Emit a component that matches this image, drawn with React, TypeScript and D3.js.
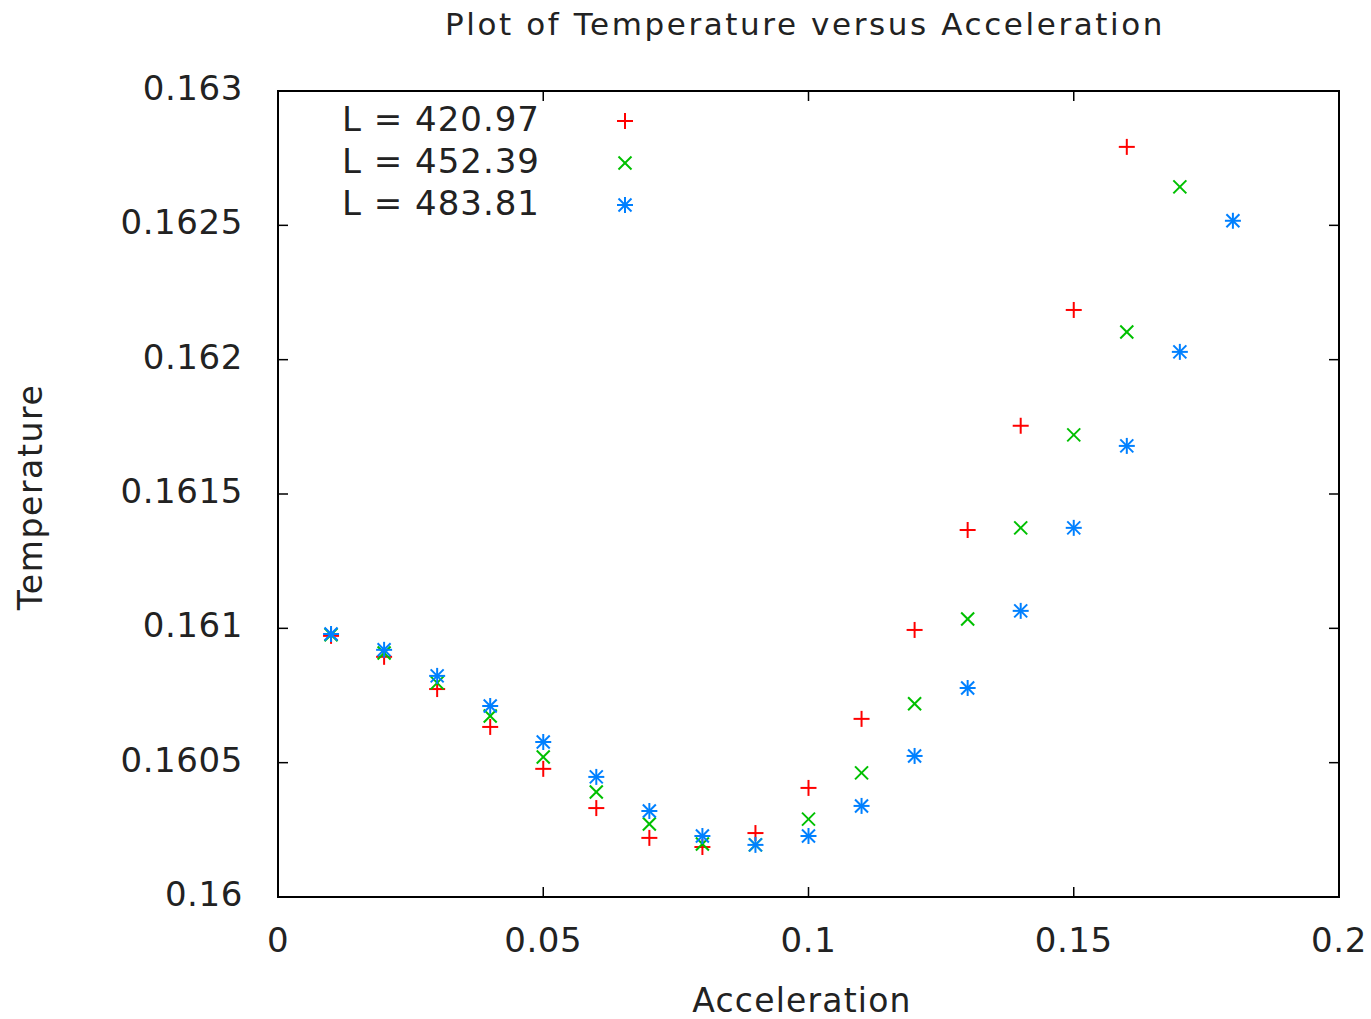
import React from "react";
import * as d3 from "d3";

const accel = [0.01, 0.02, 0.03, 0.04, 0.05, 0.06, 0.07, 0.08, 0.09, 0.1, 0.11, 0.12, 0.13, 0.14, 0.15, 0.16, 0.17, 0.18];
const tempL420 = [0.160972, 0.160894, 0.160774, 0.160633, 0.160477, 0.160331, 0.16022, 0.160186, 0.160238, 0.160406, 0.160663, 0.160994, 0.161366, 0.161754, 0.162185, 0.162792];
const tempL452 = [0.160976, 0.160908, 0.160797, 0.160674, 0.160521, 0.160391, 0.160272, 0.160197, 0.160194, 0.16029, 0.160462, 0.160719, 0.161035, 0.161374, 0.16172, 0.162103, 0.162643];
const tempL483 = [0.160979, 0.16092, 0.160823, 0.160711, 0.160577, 0.160447, 0.16032, 0.160227, 0.160194, 0.160227, 0.160339, 0.160525, 0.160778, 0.161065, 0.161374, 0.161679, 0.162029, 0.162517];
const seriesLabels = ["L = 420.97", "L = 452.39", "L = 483.81"];
const seriesColors = ["#ff0000", "#00c000", "#0080ff"];
const seriesShapes = ["plus", "cross", "star"];
const xTicks = [0, 0.05, 0.1, 0.15, 0.2];
const xTickLabels = ["0", "0.05", "0.1", "0.15", "0.2"];
const yTicks = [0.16, 0.1605, 0.161, 0.1615, 0.162, 0.1625, 0.163];
const yTickLabels = ["0.16", "0.1605", "0.161", "0.1615", "0.162", "0.1625", "0.163"];

const W = 1371, H = 1019;
const left = 278, right = 1339, top = 91, bottom = 897;
const FONT = "DejaVu Sans, sans-serif";

function Marker({ shape, x, y, color }: { shape: string; x: number; y: number; color: string }) {
  const s = 8;
  const d = 6.5;
  const sw = 2;
  if (shape === "plus") {
    return (
      <g stroke={color} strokeWidth={sw}>
        <line x1={x - s} y1={y} x2={x + s} y2={y} />
        <line x1={x} y1={y - s} x2={x} y2={y + s} />
      </g>
    );
  }
  if (shape === "cross") {
    return (
      <g stroke={color} strokeWidth={sw}>
        <line x1={x - d} y1={y - d} x2={x + d} y2={y + d} />
        <line x1={x - d} y1={y + d} x2={x + d} y2={y - d} />
      </g>
    );
  }
  return (
    <g stroke={color} strokeWidth={sw}>
      <line x1={x - s} y1={y} x2={x + s} y2={y} />
      <line x1={x} y1={y - s} x2={x} y2={y + s} />
      <line x1={x - d} y1={y - d} x2={x + d} y2={y + d} />
      <line x1={x - d} y1={y + d} x2={x + d} y2={y - d} />
    </g>
  );
}

export default function App() {
  const xScale = d3.scaleLinear().domain([0, 0.2]).range([left, right]);
  const yScale = d3.scaleLinear().domain([0.16, 0.163]).range([bottom, top]);
  const series = [tempL420, tempL452, tempL483];
  const tickLen = 10;

  return (
    <svg width={W} height={H} style={{ position: "absolute", left: 0, top: 0, background: "#fff" }}>
      <rect x={0} y={0} width={W} height={H} fill="#fff" />
      <text x={805} y={24} textAnchor="middle" dominantBaseline="central" fontFamily={FONT} fontSize={31} letterSpacing={2.6} fill="#222">
        Plot of Temperature versus Acceleration
      </text>
      <g stroke="#000" strokeWidth={1.5}>
        {xTicks.map((t, i) => (
          <g key={"xt" + i}>
            <line x1={xScale(t)} x2={xScale(t)} y1={bottom} y2={bottom - tickLen} />
            <line x1={xScale(t)} x2={xScale(t)} y1={top} y2={top + tickLen} />
          </g>
        ))}
        {yTicks.map((t, i) => (
          <g key={"yt" + i}>
            <line x1={left} x2={left + tickLen} y1={yScale(t)} y2={yScale(t)} />
            <line x1={right} x2={right - tickLen} y1={yScale(t)} y2={yScale(t)} />
          </g>
        ))}
      </g>
      <rect x={left} y={top} width={right - left} height={bottom - top} fill="none" stroke="#000" strokeWidth={2} />
      {xTicks.map((t, i) => (
        <text key={"xl" + i} x={xScale(t)} y={940} textAnchor="middle" dominantBaseline="central" fontFamily={FONT} fontSize={34} letterSpacing={0.6} fill="#222">
          {xTickLabels[i]}
        </text>
      ))}
      {yTicks.map((t, i) => (
        <text key={"yl" + i} x={243} y={yScale(t) - 3} textAnchor="end" dominantBaseline="central" fontFamily={FONT} fontSize={34} letterSpacing={0.6} fill="#222">
          {yTickLabels[i]}
        </text>
      ))}
      <text x={802} y={1000} textAnchor="middle" dominantBaseline="central" fontFamily={FONT} fontSize={33} letterSpacing={1.2} fill="#222">
        Acceleration
      </text>
      <text transform={`translate(30,497) rotate(-90)`} textAnchor="middle" dominantBaseline="central" fontFamily={FONT} fontSize={33} letterSpacing={1.6} fill="#222">
        Temperature
      </text>
      {seriesLabels.map((lab, i) => (
        <g key={"lg" + i}>
          <text x={540} y={119 + i * 42} textAnchor="end" dominantBaseline="central" fontFamily={FONT} fontSize={34} letterSpacing={1} fill="#222">
            {lab}
          </text>
          <Marker shape={seriesShapes[i]} x={625} y={121 + i * 42} color={seriesColors[i]} />
        </g>
      ))}
      {series.map((vals, si) =>
        vals.map((v, j) => (
          <Marker key={si + "-" + j} shape={seriesShapes[si]} x={xScale(accel[j])} y={yScale(v)} color={seriesColors[si]} />
        ))
      )}
    </svg>
  );
}
